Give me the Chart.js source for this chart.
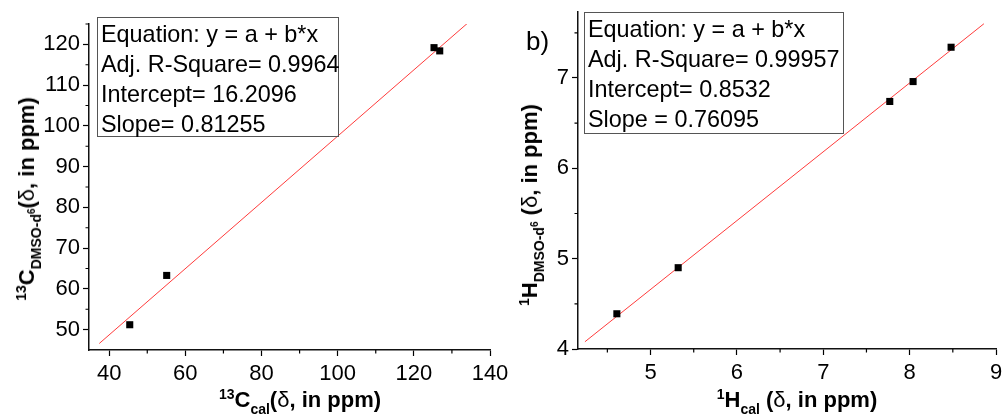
<!DOCTYPE html>
<html>
<head>
<meta charset="utf-8">
<script src="https://cdn.jsdelivr.net/npm/chart.js@4.4.1/dist/chart.umd.min.js"></script>
<style>
    body { margin: 0; background: #fff; }
    #wrap { position: relative; width: 1003px; height: 420px; overflow: hidden; background: #fff; }
    canvas { position: absolute; top: 0; }
    .box {
        position: absolute; box-sizing: border-box; border: 1.5px solid #555;
        font: 23.4px "Liberation Sans", Arial, sans-serif; line-height: 30px;
        padding-left: 3px; padding-top: 1px; white-space: nowrap; color: #000;
    }
    .title {
        position: absolute; font: bold 22px "Liberation Sans", Arial, sans-serif;
        white-space: nowrap; color: #000; transform: translate(-50%, -50%);
    }
    .title.rot { transform: translate(-50%, -50%) rotate(-90deg); }
    .title sup, .title sub { font-size: 14px; line-height: 0; }
    .title sup { vertical-align: 8px; }
    .title sub { vertical-align: -7px; }
    .title sub sup { font-size: 10px; vertical-align: 6px; }
    .title .d { font-weight: normal; }
    .tag { position: absolute; font: 26px "Liberation Sans", Arial, sans-serif; color: #000; }
</style>
</head>
<body>
<div id="wrap">
    <canvas id="chartC" width="520" height="420" style="left:0"></canvas>
    <canvas id="chartH" width="503" height="420" style="left:500px"></canvas>

    <div class="box" style="left:97px; top:17px; width:242px; height:120px">
        Equation: y = a + b*x<br>Adj. R-Square= 0.9964<br>Intercept= 16.2096<br>Slope= 0.81255
    </div>
    <div class="box" style="left:584px; top:12px; width:260px; height:122px">
        Equation: y = a + b*x<br>Adj. R-Square= 0.99957<br>Intercept= 0.8532<br>Slope = 0.76095
    </div>

    <div class="tag" style="left:526px; top:26px">b)</div>

    <div class="title rot" style="left:27px; top:199px"><sup>13</sup>C<sub>DMSO-d<sup>6</sup></sub>(<span class="d">δ</span>, in ppm)</div>
    <div class="title" style="left:300px; top:400px"><sup>13</sup>C<sub>cal</sub>(<span class="d">δ</span>, in ppm)</div>
    <div class="title rot" style="left:530px; top:205px"><sup>1</sup>H<sub>DMSO-d<sup>6</sup></sub> (<span class="d">δ</span>, in ppm)</div>
    <div class="title" style="left:797px; top:400px"><sup>1</sup>H<sub>cal</sub> (<span class="d">δ</span>, in ppm)</div>
</div>

<script>
// 13C 数据
const cCal = [45.4, 55.1, 125.3, 126.8];
const cExp = [51.2, 63.3, 119.2, 118.4];
const cFitX = [37.4, 134.6];
const cFitY = [46.6, 125.6];
const cTicksX = [40, 60, 80, 100, 120, 140];
const cMinorX = [50, 70, 90, 110, 130];
const cTicksY = [50, 60, 70, 80, 90, 100, 110, 120];
const cMinorY = [55, 65, 75, 85, 95, 105, 115, 125];

// 1H 数据
const hCal = [4.61, 5.32, 7.77, 8.04, 8.48];
const hExp = [4.39, 4.90, 6.74, 6.96, 7.34];
const hFitX = [4.24, 8.86];
const hFitY = [4.08, 7.60];
const hTicksX = [5, 6, 7, 8, 9];
const hMinorX = [4.5, 5.5, 6.5, 7.5, 8.5];
const hTicksY = [4, 5, 6, 7];
const hMinorY = [4.5, 5.5, 6.5, 7.5];

// 次刻度，Chart.js 没有自带
const minorTicks = {
    id: "minorTicks",
    afterDraw(chart, args, opts) {
        const ctx = chart.ctx;
        const xs = chart.scales.x, ys = chart.scales.y;
        ctx.save();
        ctx.strokeStyle = "#000";
        ctx.lineWidth = 1.2;
        ctx.beginPath();
        opts.x.forEach(v => {
            const px = xs.getPixelForValue(v);
            ctx.moveTo(px, xs.top);
            ctx.lineTo(px, xs.top + 3.5);
        });
        opts.y.forEach(v => {
            const py = ys.getPixelForValue(v);
            ctx.moveTo(ys.right, py);
            ctx.lineTo(ys.right - 3.5, py);
        });
        ctx.stroke();
        ctx.restore();
    }
};

function axis(min, max, ticks, size, horizontal) {
    return {
        type: "linear",
        min: min,
        max: max,
        afterBuildTicks: s => { s.ticks = ticks.map(v => ({ value: v })); },
        afterFit: s => {
            if (horizontal) s.height = size; else s.width = size;
            s.paddingLeft = 0; s.paddingRight = 0; s.paddingTop = 0; s.paddingBottom = 0;
        },
        grid: { drawOnChartArea: false, drawTicks: true, tickLength: 6, tickColor: "#000", tickWidth: 1.2 },
        border: { display: true, color: "#111", width: 1.5 },
        ticks: {
            color: "#000",
            font: { family: "Liberation Sans", size: 22 },
            padding: horizontal ? 5 : 3,
            maxRotation: 0,
            autoSkip: false
        }
    };
}

function drawPanel(id, xs, ys, fitX, fitY, cfg) {
    new Chart(document.getElementById(id), {
        type: "scatter",
        data: {
            datasets: [
                {
                    data: xs.map((x, i) => ({ x: x, y: ys[i] })),
                    pointStyle: "rect",
                    pointRadius: 5,
                    backgroundColor: "#000",
                    borderColor: "#000",
                    borderWidth: 0
                },
                {
                    data: fitX.map((x, i) => ({ x: x, y: fitY[i] })),
                    showLine: true,
                    pointRadius: 0,
                    borderColor: "#ff3b3b",
                    borderWidth: 1
                }
            ]
        },
        options: {
            responsive: false,
            animation: false,
            devicePixelRatio: 1,
            layout: { padding: cfg.padding },
            scales: {
                x: axis(cfg.xMin, cfg.xMax, cfg.ticksX, cfg.xHeight, true),
                y: axis(cfg.yMin, cfg.yMax, cfg.ticksY, cfg.yWidth, false)
            },
            plugins: {
                legend: { display: false },
                tooltip: { enabled: false },
                minorTicks: { x: cfg.minorX, y: cfg.minorY }
            }
        },
        plugins: [minorTicks]
    });
}

drawPanel("chartC", cCal, cExp, cFitX, cFitY, {
    padding: { left: 0, top: 24, right: 30, bottom: 0 },
    xMin: 34.7, xMax: 140, yMin: 45, yMax: 125,
    ticksX: cTicksX, ticksY: cTicksY, minorX: cMinorX, minorY: cMinorY,
    xHeight: 70, yWidth: 89
});

drawPanel("chartH", hCal, hExp, hFitX, hFitY, {
    padding: { left: 0, top: 12, right: 7, bottom: 0 },
    xMin: 4.16, xMax: 9, yMin: 4, yMax: 7.73,
    ticksX: hTicksX, ticksY: hTicksY, minorX: hMinorX, minorY: hMinorY,
    xHeight: 71, yWidth: 78
});
</script>
</body>
</html>
